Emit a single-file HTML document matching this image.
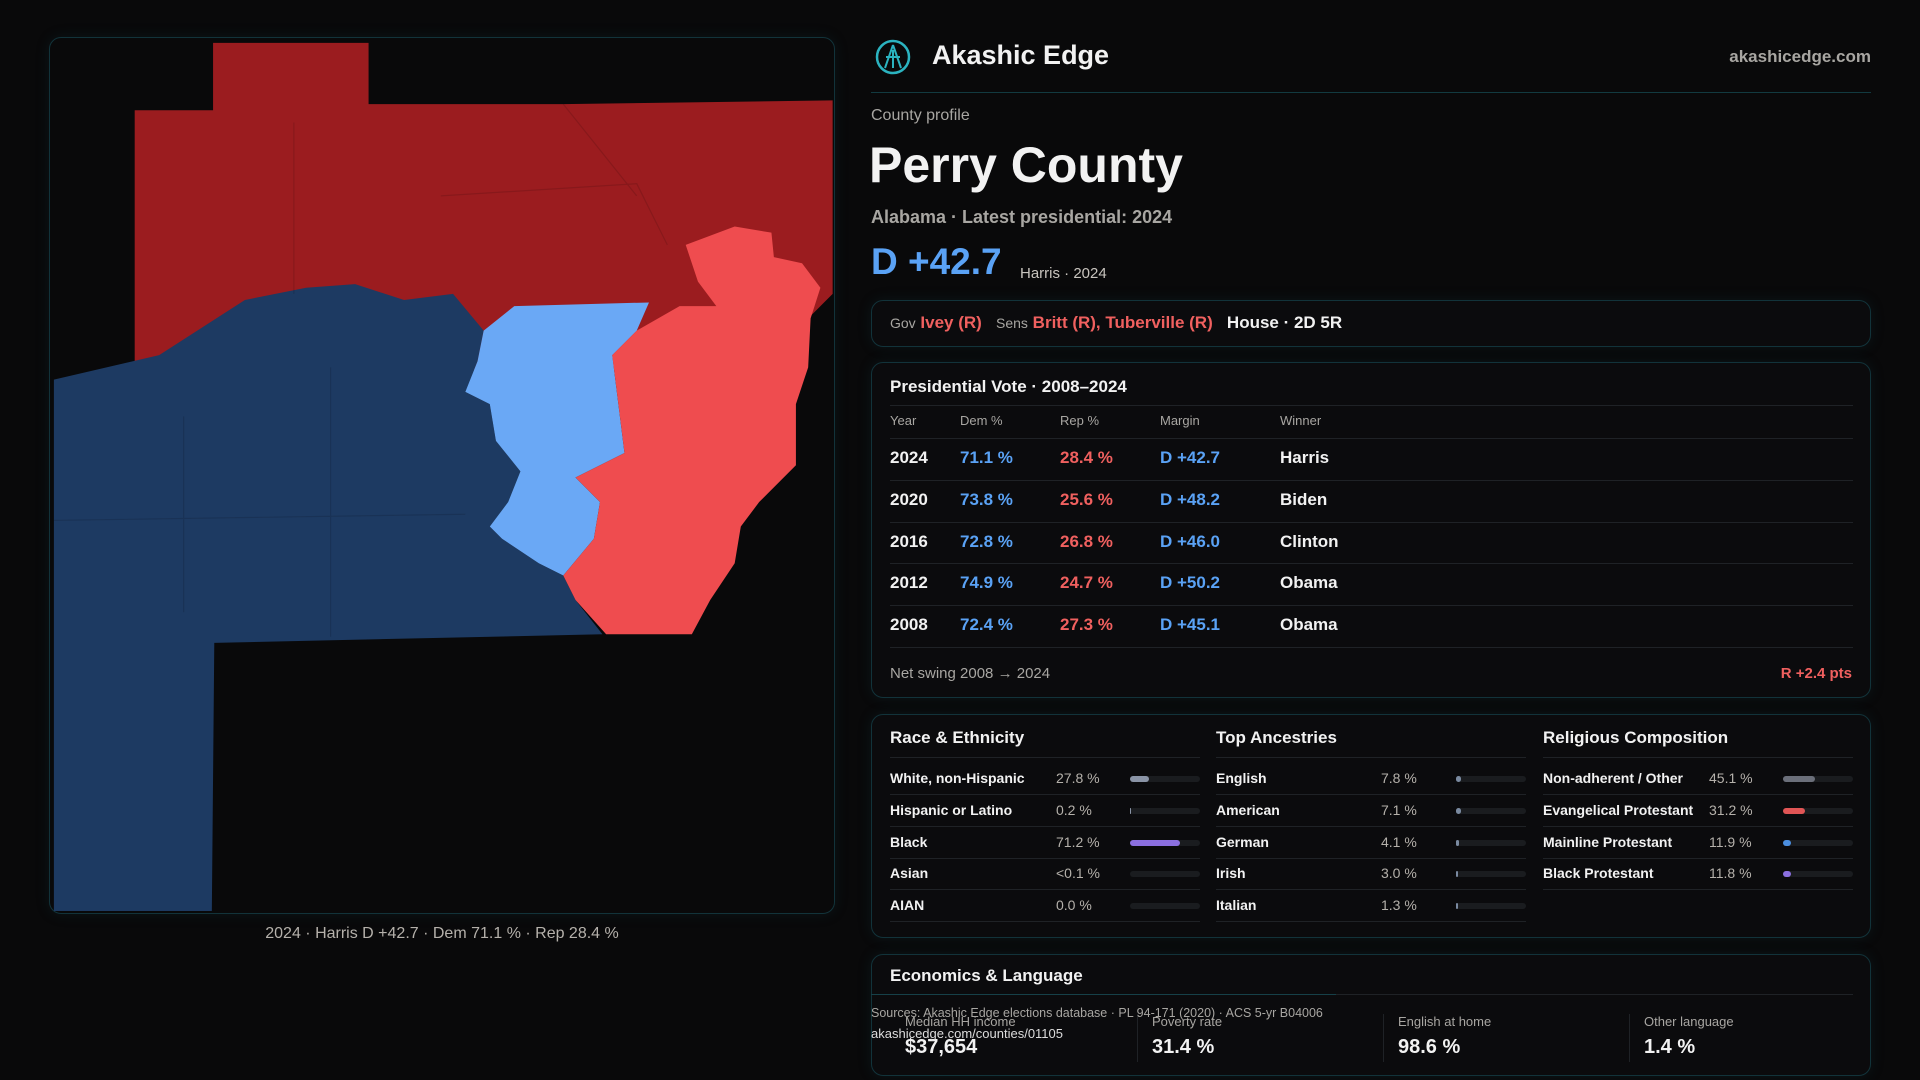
<!DOCTYPE html>
<html><head><meta charset="utf-8"><style>
*{margin:0;padding:0;box-sizing:border-box}
body{width:1920px;height:1080px;background:#09090a;font-family:"Liberation Sans",sans-serif;color:#f2f2f2;position:relative;overflow:hidden}
.a{position:absolute;white-space:nowrap}
.box{position:absolute;border:1px solid #12333a;border-radius:12px;background:#0b0b0d;box-shadow:0 0 14px rgba(20,80,90,0.18)}
.muted{color:#a8a6a2}
.blue{color:#5aa2f5}.red{color:#f0605f}
.hr{position:absolute;height:1px;background:#1f2226}
</style></head><body>
<div class="box" style="left:49px;top:37px;width:786px;height:877px;background:#09090a"></div>
<svg class="a" style="left:0;top:0" width="1920" height="1080" viewBox="0 0 1568 882">
<polygon fill="#9b1c1f" points="174,35 301,35 301,85 460,85 680,82 680,240 660,260 600,300 110,305 110,90 174,90"/>
<polygon fill="#1d3a62" points="44,310 130,290 200,245 250,235 290,232 330,245 370,240 395,270 390,295 380,320 400,330 405,360 425,385 415,410 400,430 410,440 440,460 460,470 470,490 492,518 175,525 173,744 44,744"/>
<polygon fill="#6aa8f5" points="390,295 395,270 420,250 530,247 520,270 500,290 510,370 470,390 490,410 485,440 460,470 440,460 410,440 400,430 415,410 425,385 405,360 400,330 380,320"/>
<polygon fill="#ef4c4f" points="560,200 600,185 630,190 632,210 655,215 670,235 662,260 660,300 650,330 650,380 620,410 605,430 600,460 580,490 565,518 495,518 470,490 460,470 485,440 490,410 470,390 510,370 500,290 520,270 555,250 585,250 570,230"/>
<g stroke="#000" stroke-opacity="0.12" fill="none" stroke-width="1">
<path d="M240,100 L240,240 M360,160 L520,150 L545,200 M150,340 L150,500 M270,300 L270,520 M44,425 L380,420 M460,85 L520,160"/>
</g>
</svg>
<div class="a muted" style="left:49px;width:786px;top:925px;text-align:center;font-size:16px;color:#b5b1ab">2024 · Harris D +42.7 · Dem 71.1 % · Rep 28.4 %</div>

<svg class="a" style="left:874px;top:38px" width="38" height="38" viewBox="0 0 38 38"><circle cx="19" cy="19" r="16" fill="none" stroke="#2bb3c0" stroke-width="2.5"/><path d="M19,7 L11,30 M19,7 L27,30 M12,19 L26,19 M19,12 L19,30" stroke="#2bb3c0" stroke-width="2"/></svg>
<div class="a" style="left:932px;top:40px;font-size:27px;font-weight:bold">Akashic Edge</div>
<div class="a muted" style="right:49px;top:47px;font-size:17px;font-weight:bold">akashicedge.com</div>
<div class="hr" style="left:871px;top:92px;width:1000px;background:#123a40"></div>
<div class="a muted" style="left:871px;top:107px;font-size:16px">County profile</div>
<div class="a" style="left:869px;top:136px;font-size:50px;font-weight:bold">Perry County</div>
<div class="a muted" style="left:871px;top:207px;font-size:18px;font-weight:bold">Alabama · Latest presidential: 2024</div>
<div class="a blue" style="left:871px;top:241px;font-size:37px;font-weight:bold">D +42.7</div>
<div class="a muted" style="left:1020px;top:265px;font-size:15px;color:#c8c4be">Harris · 2024</div>

<div class="box" style="left:871px;top:300px;width:1000px;height:47px"></div>
<div class="a" style="left:890px;top:313px;font-size:17px;font-weight:bold"><span class="muted" style="font-size:14px;font-weight:normal">Gov</span> <span class="red">Ivey (R)</span> &nbsp; <span class="muted" style="font-size:14px;font-weight:normal">Sens</span> <span class="red">Britt (R), Tuberville (R)</span> &nbsp; House · 2D 5R</div>

<div class="box" style="left:871px;top:362px;width:1000px;height:336px"></div>
<div class="a" style="left:890px;top:377px;font-size:17px;font-weight:bold">Presidential Vote · 2008–2024</div>
<div class="hr" style="left:890px;top:405px;width:963px"></div>
<div id="pres"></div>
<div class="a muted" style="left:890px;top:665px;font-size:15px">Net swing 2008 → 2024</div>
<div class="a red" style="right:68px;top:665px;font-size:15px;font-weight:bold">R +2.4 pts</div>

<div class="box" style="left:871px;top:714px;width:1000px;height:224px"></div>
<div id="demo"></div>

<div class="box" style="left:871px;top:954px;width:1000px;height:122px"></div>
<div class="a" style="left:890px;top:966px;font-size:17px;font-weight:bold">Economics &amp; Language</div>
<div class="hr" style="left:890px;top:994px;width:963px"></div>
<div class="hr" style="left:871px;top:994px;width:465px;background:#164048"></div>
<div id="econ"></div>
<div class="a muted" style="left:871px;top:1006px;font-size:12.5px">Sources: Akashic Edge elections database · PL 94-171 (2020) · ACS 5-yr B04006</div>
<div class="a" style="left:871px;top:1026px;font-size:13px;color:#ddd">akashicedge.com/counties/01105</div>

<script>
const years=["2024","2020","2016","2012","2008"];
const demPct=[71.1,73.8,72.8,74.9,72.4];
const repPct=[28.4,25.6,26.8,24.7,27.3];
const winners=["Harris","Biden","Clinton","Obama","Obama"];
const raceLabels=["White, non-Hispanic","Hispanic or Latino","Black","Asian","AIAN"];
const raceVals=[27.8,0.2,71.2,0.05,0.0];
const raceText=["27.8 %","0.2 %","71.2 %","<0.1 %","0.0 %"];
const ancLabels=["English","American","German","Irish","Italian"];
const ancVals=[7.8,7.1,4.1,3.0,1.3];
const relLabels=["Non-adherent / Other","Evangelical Protestant","Mainline Protestant","Black Protestant"];
const relVals=[45.1,31.2,11.9,11.8];
const econLabels=["Median HH income","Poverty rate","English at home","Other language"];
const econVals=["$37,654","31.4 %","98.6 %","1.4 %"];

function el(parent,html,style,name){const d=document.createElement('div');d.className='a';d.innerHTML=html;d.style.cssText=style;parent.appendChild(d);return d;}
const pres=document.getElementById('pres');
const cols=[890,960,1060,1160,1280];
["Year","Dem %","Rep %","Margin","Winner"].forEach((h,i)=>{
  el(pres,h,`left:${cols[i]}px;top:413px;font-size:13px;color:#a8a6a2`,'column-header');
});
const rowY=i=>458+i*41.8;
years.forEach((y,i)=>{
  const t=rowY(i);
  el(pres,'',`left:890px;top:${t-20}px;width:963px;height:1px;background:#1f2226`,'row-divider');
  el(pres,y,`left:${cols[0]}px;top:${t-10}px;font-size:17px;font-weight:bold`,'row-year');
  el(pres,demPct[i].toFixed(1)+' %',`left:${cols[1]}px;top:${t-10}px;font-size:17px;font-weight:bold;color:#5aa2f5`,'row-dem');
  el(pres,repPct[i].toFixed(1)+' %',`left:${cols[2]}px;top:${t-10}px;font-size:17px;font-weight:bold;color:#f0605f`,'row-rep');
  const m=demPct[i]-repPct[i];
  el(pres,(m>=0?'D +':'R +')+Math.abs(m).toFixed(1),`left:${cols[3]}px;top:${t-10}px;font-size:17px;font-weight:bold;color:${m>=0?'#5aa2f5':'#f0605f'}`,'row-margin');
  el(pres,winners[i],`left:${cols[4]}px;top:${t-10}px;font-size:17px;font-weight:bold`,'row-winner');
});
el(pres,'',`left:890px;top:${rowY(5)-20}px;width:963px;height:1px;background:#1f2226`,'row-divider');

const demo=document.getElementById('demo');
function group(x,title,labels,vals,texts,colors,valX,barX,name){
  el(demo,title,`left:${x}px;top:728px;font-size:17px;font-weight:bold`,name+'-title');
  el(demo,'',`left:${x}px;top:757px;width:${barX+70-x}px;height:1px;background:#1f2226`,'divider');
  labels.forEach((l,i)=>{
    const t=779+i*31.8;
    el(demo,l,`left:${x}px;top:${t-9}px;font-size:14px;font-weight:bold`,name+'-label');
    el(demo,texts[i],`left:${valX}px;top:${t-9}px;font-size:14px;color:#b5b1ab`,name+'-value');
    el(demo,'',`left:${barX}px;top:${t-3}px;width:70px;height:6px;border-radius:3px;background:#1a1c1f`,name+'-track');
    const w=Math.max(vals[i]/100*70,vals[i]>0.5?2:0);
    el(demo,'',`left:${barX}px;top:${t-3}px;width:${w}px;height:6px;border-radius:3px;background:${colors[i]}`,name+'-bar');
    el(demo,'',`left:${x}px;top:${t+15}px;width:${barX+70-x}px;height:1px;background:#1f2226`,'divider');
  });
}
group(890,"Race &amp; Ethnicity",raceLabels,raceVals,raceText,["#8a94a6","#8a94a6","#8b6fe0","#8a94a6","#8a94a6"],1056,1130,'race');
group(1216,"Top Ancestries",ancLabels,ancVals,ancVals.map(v=>v.toFixed(1)+' %'),ancLabels.map(()=>"#7a8aa0"),1381,1456,'ancestry');
group(1543,"Religious Composition",relLabels,relVals,relVals.map(v=>v.toFixed(1)+' %'),["#6b6f7a","#e05555","#4a8ee0","#8b6fe0"],1709,1783,'religion');

const econ=document.getElementById('econ');
const ex=[905,1152,1398,1644];
econLabels.forEach((l,i)=>{
  if(i>0) el(econ,'',`left:${ex[i]-15}px;top:1014px;width:1px;height:48px;background:#1f2226`,'econ-divider');
  el(econ,l,`left:${ex[i]}px;top:1014px;font-size:13px;color:#a8a6a2`,'econ-label');
  el(econ,econVals[i],`left:${ex[i]}px;top:1036px;font-size:20px;font-weight:bold`,'econ-value');
});
</script>
</body></html>
